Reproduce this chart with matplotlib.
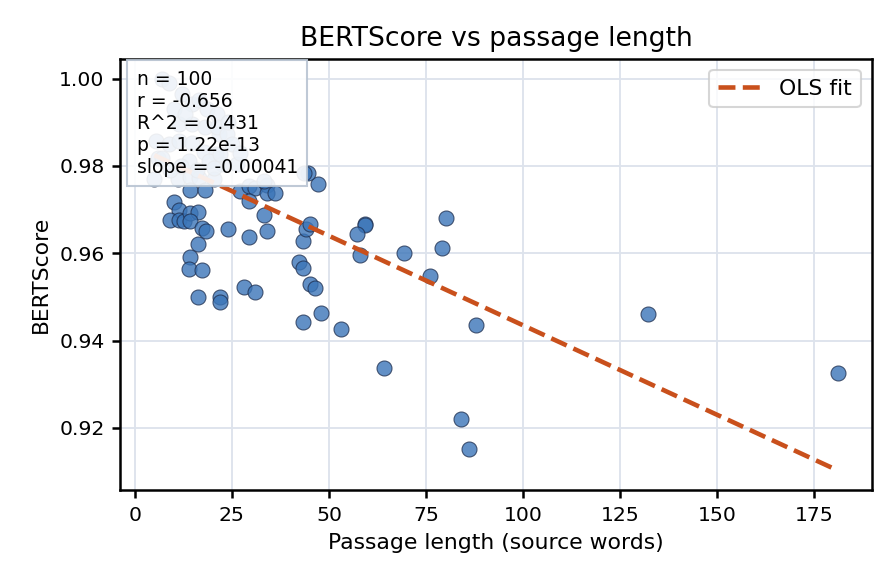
import numpy as np
import matplotlib
matplotlib.use("Agg")
import matplotlib.pyplot as plt
from matplotlib.ticker import MultipleLocator, FormatStrFormatter

# ----------------------------
# Data
# ----------------------------
passage_len = [
    5.0, 11.0, 14.3, 16.4, 20.3, 14.1, 18.2, 27.2, 29.3, 31.0,
    34.0, 34.0, 36.2, 29.3, 33.2, 34.0, 10.2, 11.3, 9.1, 11.3,
    12.6, 14.1, 16.2, 14.3, 17.3, 18.3, 24.1, 29.3, 16.2, 14.1,
    14.0, 17.2, 16.2, 22.0, 22.0, 28.2, 31.0, 43.2, 42.2, 43.2,
    45.2, 46.3, 43.2, 48.0, 53.1, 44.1, 45.2, 47.3, 44.7, 43.5,
    59.2, 59.2, 57.2, 58.0, 69.2, 76.1, 79.2, 80.2, 87.9, 64.2,
    84.0, 86.1, 132.2, 181.0,
    # points mostly hidden behind the stats box
    7.0, 8.8, 12.2, 14.8, 16.5, 18.7, 21.2, 11.4, 14.8, 18.2,
    21.7, 5.4, 8.8, 11.4, 14.8, 17.8, 20.8, 6.0, 7.1, 14.0,
    19.1, 22.5, 21.2, 23.7, 22.0, 26.3, 20.3, 33.2, 9.0, 12.0,
    25.0, 10.0, 16.0, 27.0, 13.0, 24.0,
]
bertscore = [
    0.9770, 0.9770, 0.9775, 0.9773, 0.9769, 0.9744, 0.9746, 0.9742, 0.9755, 0.9750,
    0.9757, 0.9737, 0.9737, 0.9719, 0.9688, 0.9652, 0.9718, 0.9700, 0.9677, 0.9677,
    0.9673, 0.9692, 0.9694, 0.9673, 0.9658, 0.9652, 0.9656, 0.9637, 0.9622, 0.9591,
    0.9564, 0.9562, 0.9500, 0.9501, 0.9488, 0.9522, 0.9511, 0.9629, 0.9581, 0.9566,
    0.9530, 0.9520, 0.9442, 0.9463, 0.9427, 0.9656, 0.9667, 0.9759, 0.9784, 0.9784,
    0.9668, 0.9665, 0.9644, 0.9597, 0.9601, 0.9549, 0.9612, 0.9681, 0.9436, 0.9338,
    0.9221, 0.9152, 0.9462, 0.9326,
    1.0000, 0.9991, 0.9964, 0.9941, 0.9950, 0.9930, 0.9918, 0.9895, 0.9895, 0.9888,
    0.9872, 0.9857, 0.9850, 0.9857, 0.9853, 0.9831, 0.9827, 0.9819, 0.9819, 0.9812,
    0.9812, 0.9804, 0.9888, 0.9872, 0.9827, 0.9804, 0.9796, 0.9766, 0.9790, 0.9800,
    0.9850, 0.9930, 0.9790, 0.9830, 0.9920, 0.9900,
]

# fitted line as shown in the reference
fit_slope = -0.00041
fit_intercept = 0.9845

stats_lines = [
    "n = 100",
    "r = -0.656",
    "R^2 = 0.431",
    "p = 1.22e-13",
    "slope = -0.00041",
]

x = np.array(passage_len)
y = np.array(bertscore)

# ----------------------------
# Style
# ----------------------------
plt.rcParams.update({
    "font.family": "DejaVu Sans",
    "axes.linewidth": 1.2,
})

point_color = "#3b75b8"
line_color = "#c9501c"
grid_color = "#dde3ec"

# ----------------------------
# Figure
# ----------------------------
fig, ax = plt.subplots(figsize=(896 / 150, 584 / 150), dpi=150)
fig.subplots_adjust(left=0.134, right=0.973, top=0.899, bottom=0.161)

ax.scatter(x, y, s=52, color=point_color, alpha=0.8,
           edgecolors="#1f2f4f", linewidths=0.5, zorder=3)

xs = np.array([x.min(), x.max()])
ax.plot(xs, fit_intercept + fit_slope * xs, linestyle="--", color=line_color,
        linewidth=2.2, label="OLS fit", zorder=4)

ax.set_title("BERTScore vs passage length", fontsize=12.8)
ax.set_xlabel("Passage length (source words)", fontsize=10.5)
ax.set_ylabel("BERTScore", fontsize=10.5)

ax.xaxis.set_major_locator(MultipleLocator(25))
ax.yaxis.set_major_locator(MultipleLocator(0.02))
ax.yaxis.set_major_formatter(FormatStrFormatter("%.2f"))
ax.tick_params(labelsize=9.8, width=1.2, length=4)

ax.grid(True, color=grid_color, linewidth=0.9, zorder=0)
ax.set_axisbelow(True)

ax.text(0.022, 0.975, "\n".join(stats_lines), transform=ax.transAxes,
        fontsize=9, va="top", ha="left", zorder=5,
        bbox=dict(boxstyle="square,pad=0.5", facecolor="white",
                  alpha=0.9, edgecolor="#b8c4d2", linewidth=1.0))

ax.legend(loc="upper right", fontsize=10.5)

fig.savefig("out.png", dpi=150)
